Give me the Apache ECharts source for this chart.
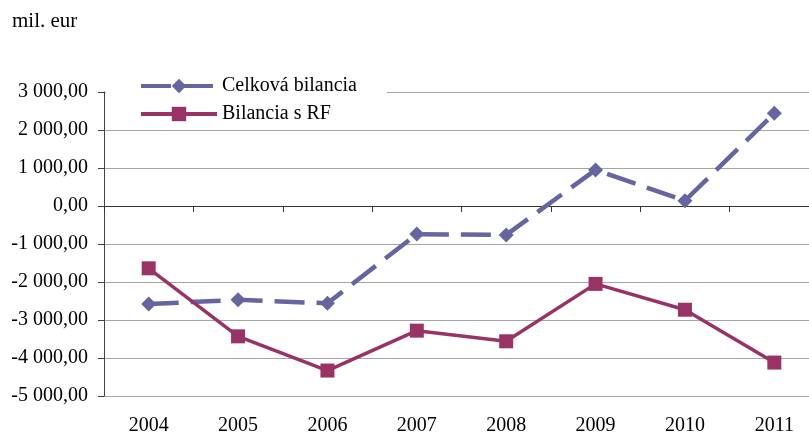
<!DOCTYPE html>
<html>
<head>
<meta charset="utf-8">
<script src="https://cdn.jsdelivr.net/npm/echarts@6/dist/echarts.min.js"></script>
<style>
  html, body { margin: 0; padding: 0; background: #fff; }
  #container { width: 809px; height: 432px; }
</style>
</head>
<body>
<div id="container"></div>
<script>
var dom = document.getElementById('container');
var myChart = echarts.init(dom);

// roky
var years = ['2004', '2005', '2006', '2007', '2008', '2009', '2010', '2011'];
// mil. eur
var celkovaBilancia = [-2580, -2470, -2560, -740, -760, 950, 140, 2440];
var bilanciaRF = [-1640, -3430, -4330, -3280, -3560, -2050, -2730, -4120];

var serif = 'Liberation Serif, Times New Roman, serif';

var fmt = function (v) {
    var s = Math.abs(v).toFixed(2).split('.');
    s[0] = s[0].replace(/\B(?=(\d{3})+(?!\d))/g, ' ');
    return (v < 0 ? '-' : '') + s[0] + ',' + s[1];
};

var option = {
    animation: false,
    backgroundColor: '#fff',
    title: {
        text: 'mil. eur',
        left: 12,
        top: 11,
        padding: 0,
        textStyle: { fontFamily: serif, fontSize: 21, fontWeight: 'normal', color: '#000' }
    },
    legend: {
        orient: 'vertical',
        left: 106,
        top: 72,
        padding: [4, 30, 4, 33],
        backgroundColor: '#fff',
        itemWidth: 76,
        itemHeight: 18,
        itemGap: 8,
        lineStyle: { width: 4 },
        textStyle: { fontFamily: serif, fontSize: 20, color: '#000' },
        data: ['Celková bilancia', 'Bilancia s RF']
    },
    grid: {
        left: 104,
        top: 92,
        right: -10,
        bottom: 36,
        containLabel: false,
        outerBoundsMode: 'none'
    },
    xAxis: [{
        type: 'category',
        data: years,
        position: 'top',
        boundaryGap: true,
        axisLine: { onZero: true, lineStyle: { color: '#333', width: 1 } },
        axisTick: { show: true, inside: true, length: 6, lineStyle: { color: '#333' } },
        axisLabel: { show: false },
        splitLine: { show: false }
    }, {
        type: 'category',
        data: years,
        position: 'bottom',
        boundaryGap: true,
        axisLine: { show: false, onZero: false },
        axisTick: { show: false },
        axisLabel: { margin: 20, fontFamily: serif, fontSize: 20, color: '#000' },
        splitLine: { show: false }
    }],
    yAxis: {
        type: 'value',
        min: -5000,
        max: 3000,
        interval: 1000,
        axisLine: { show: true, lineStyle: { color: '#444', width: 1 } },
        axisTick: { show: true, length: 6, lineStyle: { color: '#444' } },
        axisLabel: { margin: 16, fontFamily: serif, fontSize: 20, color: '#000', formatter: fmt },
        splitLine: { show: true, lineStyle: { color: '#a6a6a6', width: 1 } }
    },
    series: [{
        name: 'Celková bilancia',
        type: 'line',
        data: celkovaBilancia,
        symbol: 'diamond',
        symbolSize: 15,
        lineStyle: { color: '#65659f', width: 4.5, type: [30, 12] },
        itemStyle: { color: '#65659f' },
        z: 3
    }, {
        name: 'Bilancia s RF',
        type: 'line',
        data: bilanciaRF,
        symbol: 'rect',
        symbolSize: 14,
        lineStyle: { color: '#993366', width: 3.5 },
        itemStyle: { color: '#993366' },
        z: 3
    }]
};

myChart.setOption(option);
</script>
</body>
</html>
